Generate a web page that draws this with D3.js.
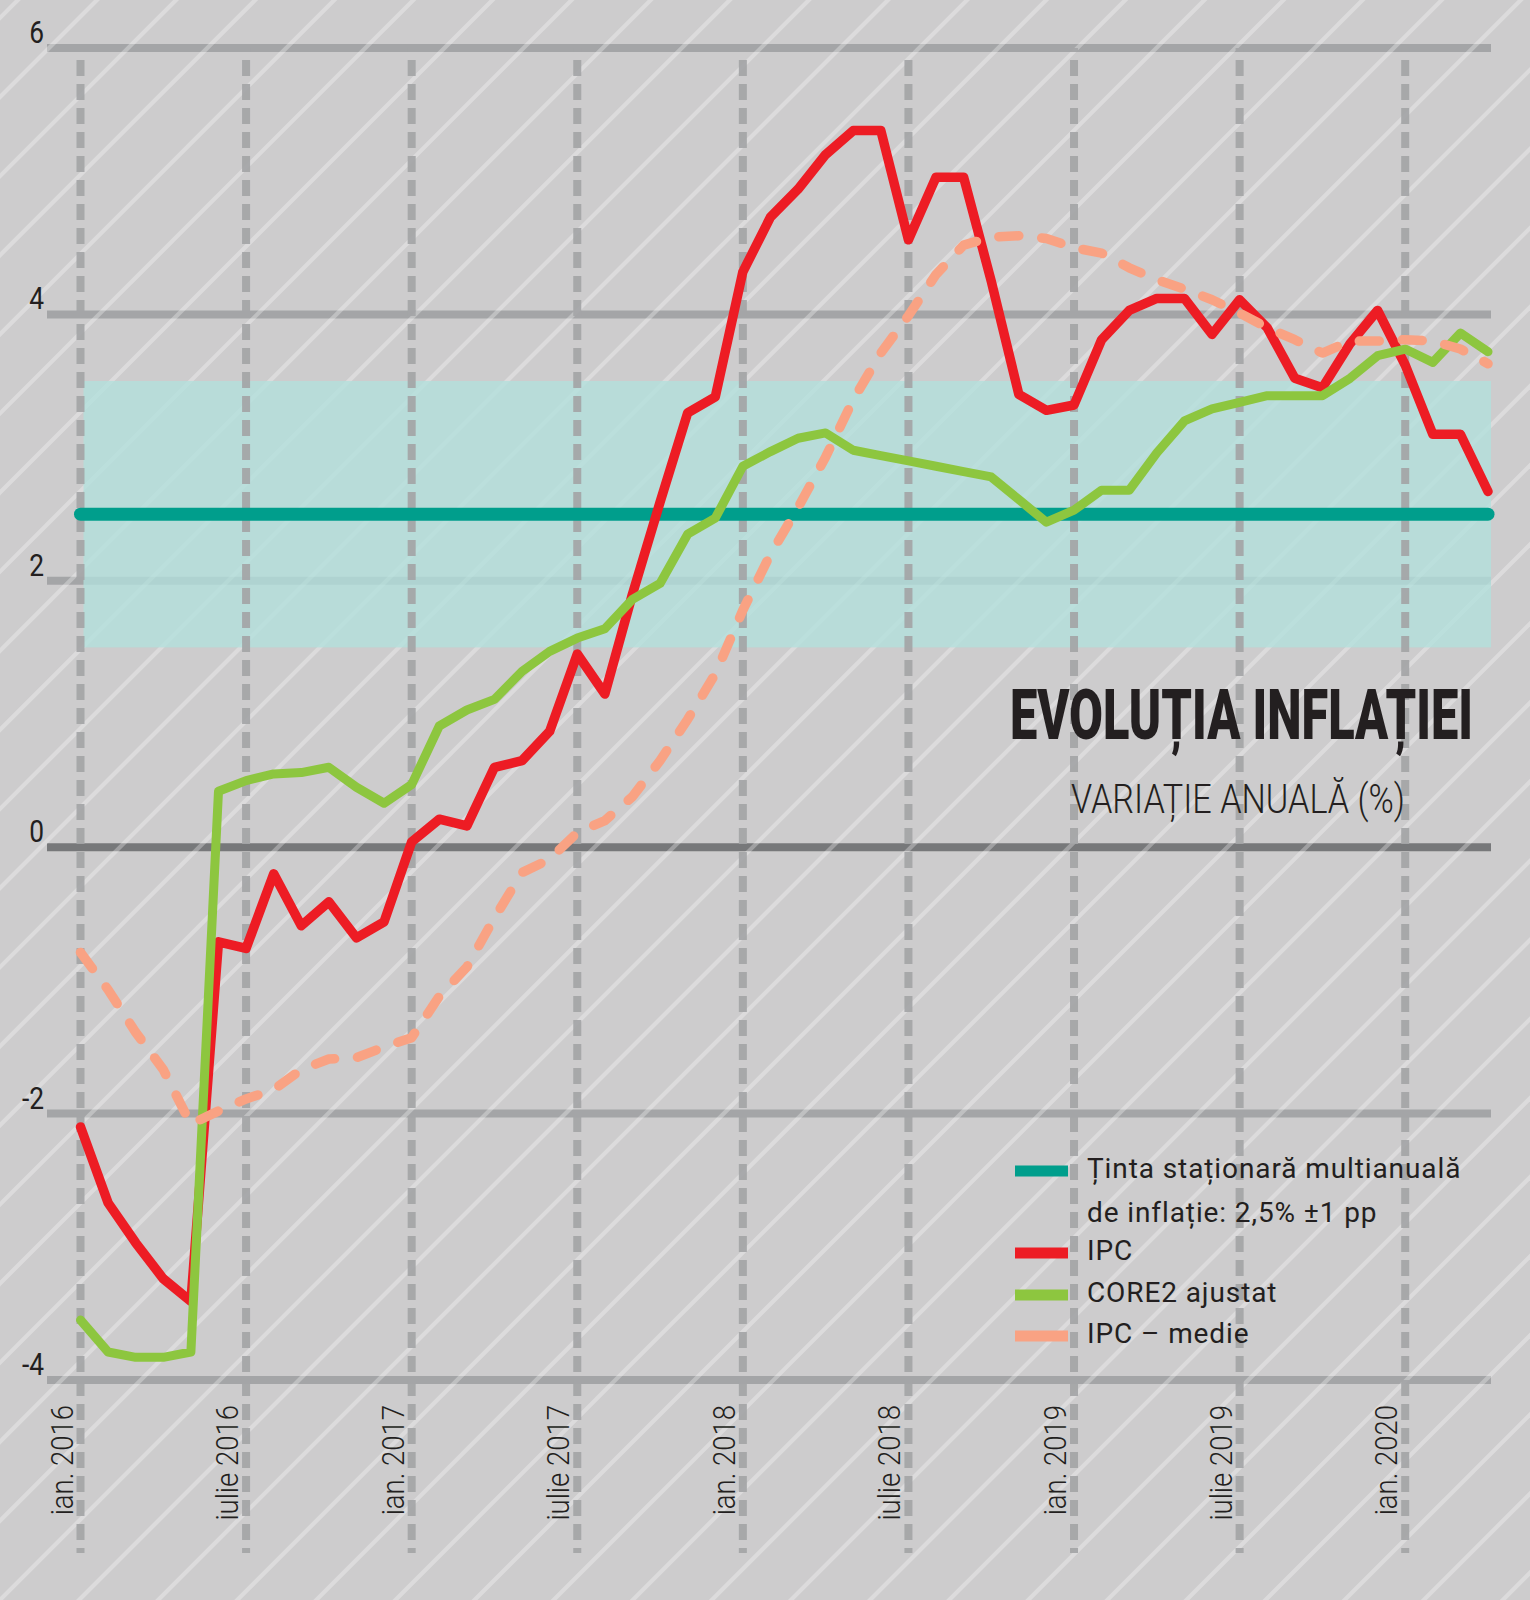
<!DOCTYPE html>
<html>
<head>
<meta charset="utf-8">
<script src="https://cdn.jsdelivr.net/npm/d3@7"></script>
<style>
  body { margin: 0; background: #cdcccd; }
  svg { display: block; }
  text { font-family: Roboto, "DejaVu Sans", sans-serif; fill: #231f20; }
</style>
</head>
<body>
<div id="chart"></div>
<script>
// lunar, ian. 2016 - apr. 2020 (variatie anuala, %)
const ipc = [
  -2.1, -2.67, -2.97, -3.24, -3.41, -0.71, -0.76, -0.2, -0.59, -0.41, -0.68, -0.56,
  0.04, 0.21, 0.16, 0.6, 0.65, 0.87, 1.45, 1.15, 1.9, 2.59, 3.26, 3.38,
  4.32, 4.73, 4.94, 5.2, 5.38, 5.38, 4.56, 5.03, 5.03, 4.25, 3.4, 3.28,
  3.32, 3.81, 4.03, 4.12, 4.12, 3.85, 4.11, 3.9, 3.52, 3.45, 3.78, 4.03,
  3.62, 3.1, 3.1, 2.67
];
const core2 = [
  -3.55, -3.79, -3.83, -3.83, -3.79, 0.42, 0.5, 0.55, 0.56, 0.6, 0.45, 0.33,
  0.47, 0.91, 1.03, 1.11, 1.32, 1.47, 1.57, 1.64, 1.86, 1.98, 2.35, 2.47,
  2.86, 2.97, 3.07, 3.11, 2.98, 2.94, 2.9, 2.86, 2.82, 2.78, 2.61, 2.44,
  2.53, 2.68, 2.68, 2.96, 3.2, 3.29, 3.34, 3.39, 3.39, 3.39, 3.52, 3.69,
  3.74, 3.64, 3.86, 3.72
];
const ipcMedie = [
  -0.79, -1.07, -1.39, -1.67, -2.08, -1.98, -1.89, -1.82, -1.67, -1.59, -1.58, -1.5,
  -1.43, -1.12, -0.9, -0.53, -0.19, -0.09, 0.11, 0.2, 0.38, 0.65, 0.96, 1.3,
  1.78, 2.2, 2.55, 2.93, 3.36, 3.71, 3.99, 4.3, 4.52, 4.58, 4.59, 4.57,
  4.5, 4.46, 4.35, 4.26, 4.19, 4.11, 4.01, 3.9, 3.81, 3.71, 3.8, 3.8,
  3.81, 3.8, 3.74, 3.63
];
const tinta = 2.5;
const tintaBand = [1.5, 3.5];

const yTicks = [-4, -2, 0, 2, 4, 6];
const xTickIdx = [0, 6, 12, 18, 24, 30, 36, 42, 48];
const xTickLabels = ["ian. 2016", "iulie 2016", "ian. 2017", "iulie 2017", "ian. 2018",
                     "iulie 2018", "ian. 2019", "iulie 2019", "ian. 2020"];
const legendLabels = [["Ținta staționară multianuală", "de inflație: 2,5% ±1 pp"], ["IPC"], ["CORE2 ajustat"], ["IPC – medie"]];
const legendColors = ["#009e8c", "#ed1c24", "#8dc63f", "#f9a283"];

const W = 1530, H = 1600;
const svg = d3.select("#chart").append("svg")
    .attr("width", W).attr("height", H);

const x = d3.scaleLinear().domain([0, ipc.length - 1]).range([80.5, 1488]);
const y = d3.scaleLinear().domain([-4, 6]).range([1380, 48]);
const gridX0 = 47, gridX1 = 1491;

svg.append("rect").attr("width", W).attr("height", H).attr("fill", "#cdcccd");

// horizontal gridlines
svg.append("g").selectAll("line")
    .data(yTicks).enter().append("line")
    .attr("x1", gridX0).attr("x2", gridX1)
    .attr("y1", d => y(d)).attr("y2", d => y(d))
    .attr("stroke", d => d === 0 ? "#77787a" : "#a4a5a7")
    .attr("stroke-width", 8);

// diagonal stripes
const stripes = d3.range(-2, 42).map(k => 97 + k * 79.1);
svg.append("g").selectAll("line")
    .data(stripes).enter().append("line")
    .attr("x1", c => c - 1700).attr("y1", 1700)
    .attr("x2", c => c + 100).attr("y2", -100)
    .attr("stroke", "rgba(255,255,255,0.3)")
    .attr("stroke-width", 4.2);

// target band
svg.append("rect")
    .attr("x", x(0) + 3).attr("width", gridX1 - x(0) - 3)
    .attr("y", y(tintaBand[1])).attr("height", y(tintaBand[0]) - y(tintaBand[1]))
    .attr("fill", "#b2e0dc").attr("opacity", 0.78);

// vertical dashed lines
svg.append("g").selectAll("line")
    .data(xTickIdx).enter().append("line")
    .attr("x1", d => x(d)).attr("x2", d => x(d))
    .attr("y1", 48).attr("y2", 1553)
    .attr("stroke", "#a4a5a7").attr("stroke-width", 8)
    .attr("stroke-dasharray", "16 8").attr("stroke-dashoffset", 12)
    .attr("opacity", 0.92);

// y labels
svg.append("g").selectAll("text")
    .data(yTicks).enter().append("text")
    .attr("transform", d => `translate(44, ${y(d) - 5}) scale(0.85, 1)`)
    .attr("text-anchor", "end")
    .attr("font-size", 31)
    .text(d => d);

// x labels
svg.append("g").selectAll("text")
    .data(xTickIdx).enter().append("text")
    .attr("transform", d => `translate(${x(d) - 8}, 1405) rotate(-90) scale(0.86, 1)`)
    .attr("text-anchor", "end")
    .attr("font-size", 32)
    .attr("font-weight", 300)
    .text((d, i) => xTickLabels[i]);

// target line
svg.append("line")
    .attr("x1", x(0)).attr("x2", x(ipc.length - 1))
    .attr("y1", y(tinta)).attr("y2", y(tinta))
    .attr("stroke", legendColors[0]).attr("stroke-width", 13)
    .attr("stroke-linecap", "round");

const line = d3.line().x((d, i) => x(i)).y(d => y(d));

svg.append("path").datum(ipc)
    .attr("d", line).attr("fill", "none")
    .attr("stroke", legendColors[1]).attr("stroke-width", 9.5)
    .attr("stroke-linejoin", "round").attr("stroke-linecap", "round");

svg.append("path").datum(core2)
    .attr("d", line).attr("fill", "none")
    .attr("stroke", legendColors[2]).attr("stroke-width", 9)
    .attr("stroke-linejoin", "round").attr("stroke-linecap", "round");

svg.append("path").datum(ipcMedie)
    .attr("d", line).attr("fill", "none")
    .attr("stroke", legendColors[3]).attr("stroke-width", 9.5)
    .attr("stroke-dasharray", "20 23")
    .attr("stroke-linejoin", "round").attr("stroke-linecap", "round");

// title and subtitle, squeezed horizontally to the reference width
function fitText(str, cx, baseline, size, weight, width) {
  const t = svg.append("text")
      .attr("font-size", size).attr("font-weight", weight)
      .attr("text-anchor", "middle")
      .text(str);
  const k = width / t.node().getComputedTextLength();
  t.attr("transform", `translate(${cx}, ${baseline}) scale(${k}, 1)`);
}
fitText("EVOLUȚIA INFLAȚIEI", 1241.5, 739, 70, 900, 463);
fitText("VARIAȚIE ANUALĂ (%)", 1238, 813, 41, 300, 334);

// legend
const rowY = [1171, 1253, 1295, 1336];
const legend = svg.append("g");
legendColors.forEach((c, i) => {
  legend.append("line")
      .attr("x1", 1015).attr("x2", 1068)
      .attr("y1", rowY[i]).attr("y2", rowY[i])
      .attr("stroke", c).attr("stroke-width", 11);
  legendLabels[i].forEach((t, j) => {
    legend.append("text")
        .attr("x", 1087).attr("y", rowY[i] + 7 + j * 44)
        .attr("font-size", 28)
        .attr("letter-spacing", 0.9)
        .text(t);
  });
});
</script>
</body>
</html>
